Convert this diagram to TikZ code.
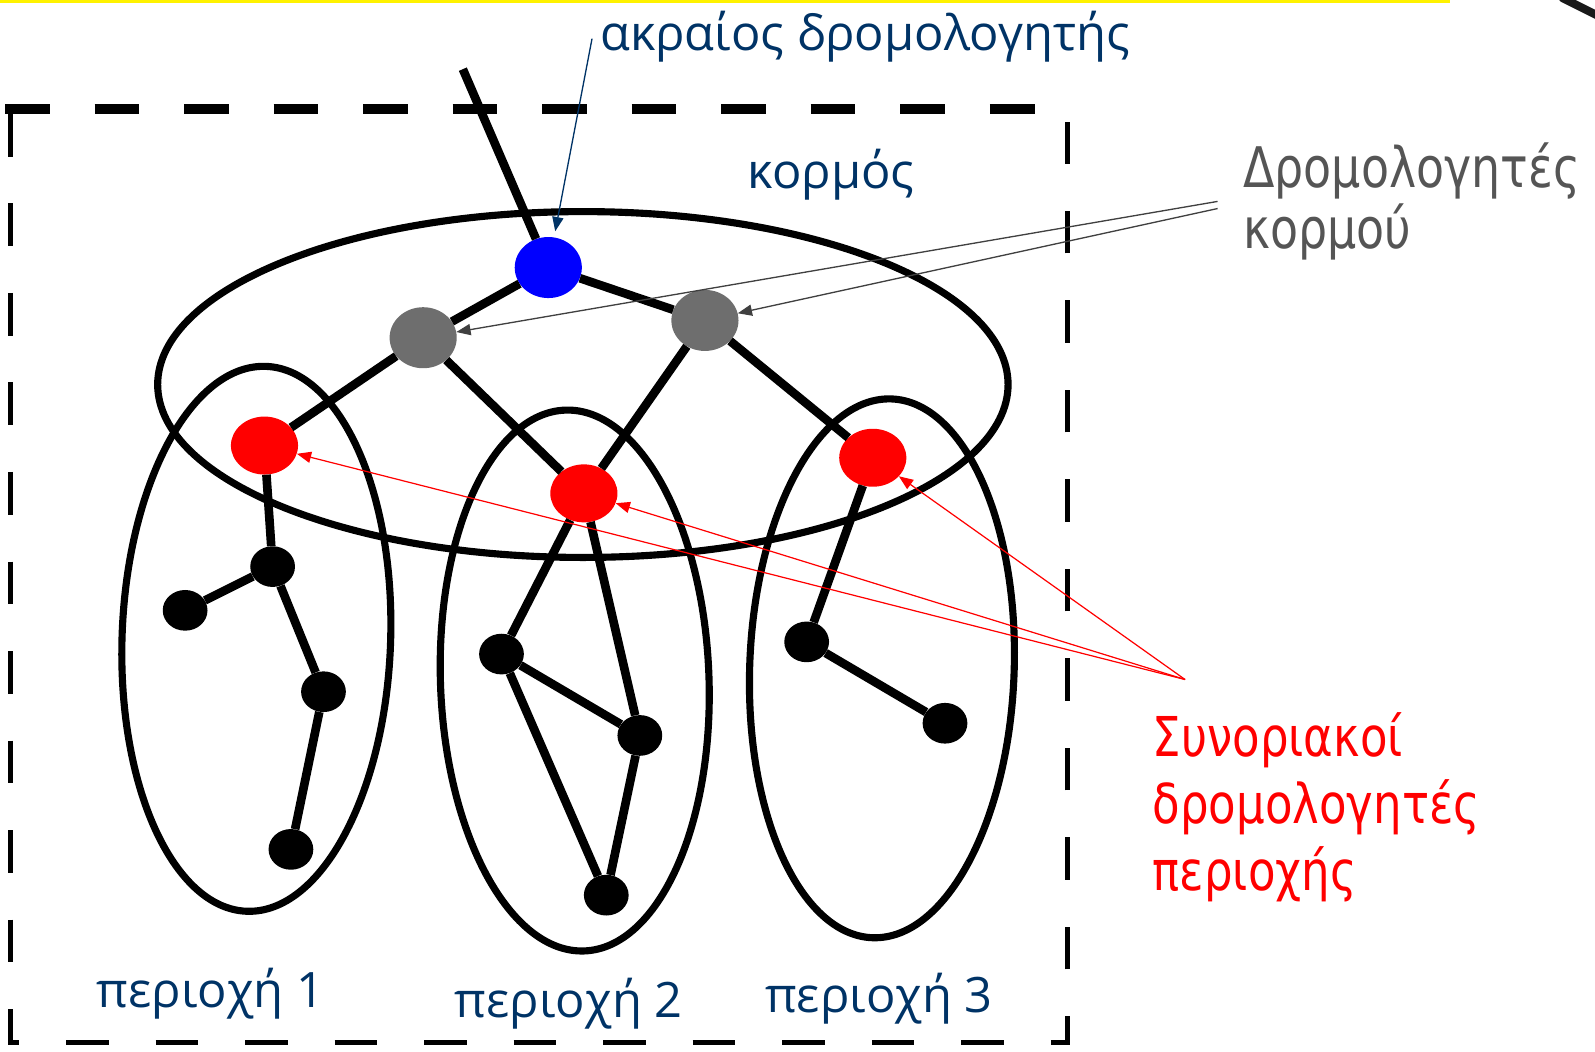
\documentclass[tikz,border=0pt]{standalone}
\usepackage{fontspec}
\setmainfont{DejaVu Sans}
\newfontfamily\bfont{Open Sans}
\newfontfamily\cfont{DejaVu Sans}[FakeStretch=0.82]
\usetikzlibrary{arrows.meta,shapes.geometric}
\definecolor{dblue}{RGB}{0,51,102}
\definecolor{gtext}{RGB}{85,85,85}
\definecolor{garrow}{RGB}{64,64,64}
\definecolor{rnode}{RGB}{255,0,0}
\definecolor{gnode}{RGB}{110,110,110}
\begin{document}
\begin{tikzpicture}[x=1pt,y=-1pt,
  edge/.style={line width=8.5pt, black},
  region/.style={line width=7pt, black},
  router/.style={shape=ellipse, inner sep=0pt, draw=none},
  leaf/.style={router, fill=black, minimum width=44pt, minimum height=40pt},
  core/.style={router, minimum width=66pt, minimum height=60pt},
  border/.style={router, fill=rnode, minimum width=66pt, minimum height=57pt},
  bluelbl/.style={text=dblue, font=\bfont\fontsize{48}{56}\selectfont, inner sep=0pt},
  ptr/.style={line width=1.3pt, -{Triangle[length=14pt,width=11pt]}},
  boxline/.style={line width=5pt, dash pattern=on 42pt off 46pt}
]
\useasboundingbox (0,0) rectangle (1568,1034);
% top yellow line and corner mark
\draw[yellow, line width=3pt] (0,1) -- (1425,1);
\coordinate (m1) at (1536,-2);
\coordinate (m2) at (1572,16);
\draw[line width=8pt, line cap=round, black!90] (m1) -- (m2);

% dashed frame
\draw[line width=10pt, dash pattern=on 44pt off 44pt] (5,107) -- (1017,107);
\draw[boxline] (10,112) -- (10,1025) -- (1049,1025) -- (1049,120);

% region ellipses
\draw[region] (573,378) ellipse [x radius=418, y radius=170];
\draw[region, rotate around={-2:(252,628)}] (252,628) ellipse [x radius=132, y radius=268];
\draw[region, rotate around={2:(565,669)}] (565,669) ellipse [x radius=132, y radius=266];
\draw[region, rotate around={-2:(867,657)}] (867,657) ellipse [x radius=130, y radius=265];

% routers
\node[core, fill=blue] (top) at (539,263) {};
\node[core, fill=gnode] (gl) at (416,332) {};
\node[core, fill=gnode] (gr) at (693,315) {};
\node[border] (r1) at (260,438) {};
\node[border] (r2) at (574,485) {};
\node[border] (r3) at (858,450) {};
\node[leaf] (a1) at (268,557) {};
\node[leaf] (a2) at (182,600) {};
\node[leaf] (a3) at (318,680) {};
\node[leaf] (a4) at (286,835) {};
\node[leaf] (b1) at (493,643) {};
\node[leaf] (b2) at (629,723) {};
\node[leaf] (b3) at (596,880) {};
\node[leaf] (c1) at (793,631) {};
\node[leaf] (c2) at (929,711) {};
\coordinate (ext) at (455,68);

% links
\draw[edge] (ext) -- (top);
\draw[edge] (top) -- (gl);
\draw[edge] (top) -- (gr);
\draw[edge] (gl) -- (r1);
\draw[edge] (gl) -- (r2);
\draw[edge] (gr) -- (r2);
\draw[edge] (gr) -- (r3);
\draw[edge] (r1) -- (a1);
\draw[edge] (a1) -- (a2);
\draw[edge] (a1) -- (a3);
\draw[edge] (a3) -- (a4);
\draw[edge] (r2) -- (b1);
\draw[edge] (r2) -- (b2);
\draw[edge] (b1) -- (b2);
\draw[edge] (b1) -- (b3);
\draw[edge] (b2) -- (b3);
\draw[edge] (r3) -- (c1);
\draw[edge] (c1) -- (c2);

% labels
\node[bluelbl, anchor=base west] (lbltop) at (590,50) {ακραίος δρομολογητής};
\node[bluelbl, anchor=base west] (lblcore) at (735,185) {κορμός};
\node[bluelbl, anchor=base west] (p1) at (95,990) {περιοχή 1};
\node[bluelbl, anchor=base west] (p2) at (447,1000) {περιοχή 2};
\node[bluelbl, anchor=base west] (p3) at (752,995) {περιοχή 3};
\node[text=gtext, font=\cfont\fontsize{55}{60}\selectfont, align=left, inner sep=0pt, anchor=north west] (lblg) at (1222,140) {Δρομολογητές\\κορμού};
\node[text=rnode, font=\cfont\fontsize{54}{66}\selectfont, align=left, inner sep=0pt, anchor=north west] (lblr) at (1133,700) {Συνοριακοί\\δρομολογητές\\περιοχής};

% pointers
\coordinate (ptop) at (582,38);
\coordinate (pg) at (1197,198);
\coordinate (pgb) at (1197,205);
\coordinate (pr) at (1165,668);
\draw[ptr, dblue, shorten >=6pt] (ptop) -- (top);
\draw[ptr, garrow] (pg) -- (gl);
\draw[ptr, garrow] (pgb) -- (gr);
\draw[ptr, red, line width=1.2pt] (pr) -- (r1);
\draw[ptr, red, line width=1.2pt] (pr) -- (r2);
\draw[ptr, red, line width=1.2pt] (pr) -- (r3);
\end{tikzpicture}
\end{document}
